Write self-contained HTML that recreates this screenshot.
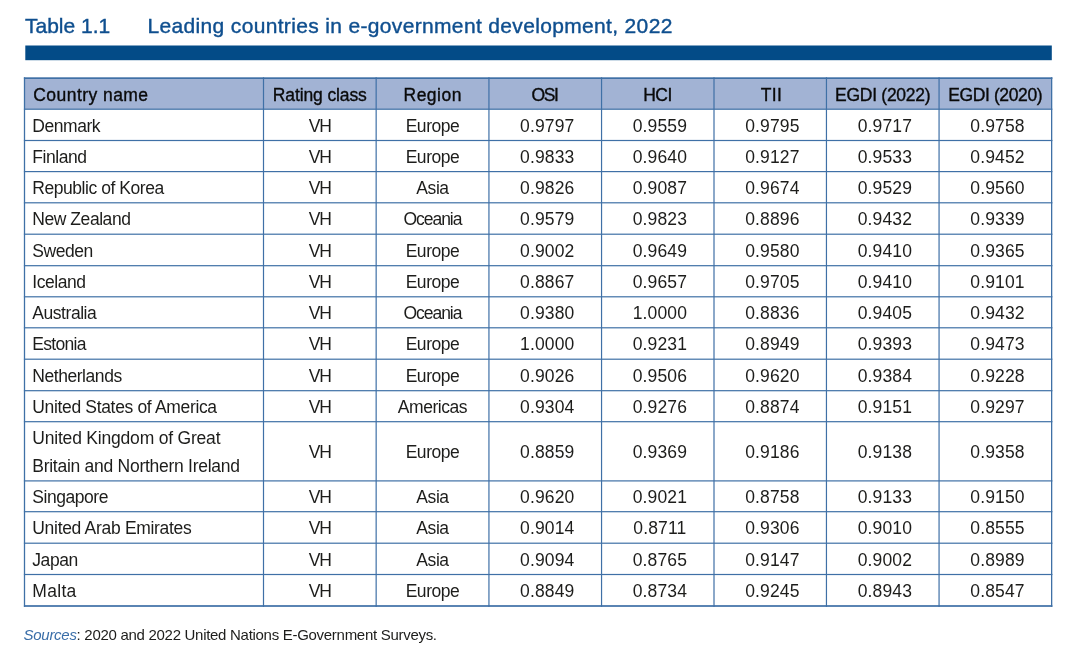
<!DOCTYPE html><html><head><meta charset="utf-8"><title>Table 1.1</title><style>
*{margin:0;padding:0;box-sizing:border-box}
html,body{width:1080px;height:660px;background:#fff;overflow:hidden}
body{position:relative;font-family:"Liberation Sans",Arial,sans-serif;color:#1d1d1b}
.t{position:absolute;white-space:nowrap;color:#0f4f8f;font-size:21px;line-height:1;-webkit-text-stroke:0.4px #0f4f8f}
.c{position:absolute;white-space:nowrap;font-size:17.5px;line-height:1}
.n{letter-spacing:-0.45px}
.num{padding-left:4.2px;letter-spacing:0.15px}
.h{font-weight:normal;font-size:17.5px;color:#0a0a0a;-webkit-text-stroke:0.35px #0a0a0a}
.src{position:absolute;left:23.6px;white-space:nowrap;font-size:15px;line-height:1;letter-spacing:-0.29px}
.src i{color:#3a6ea8}
#g{position:absolute;left:0;top:0}
#w{position:absolute;left:0;top:0;width:1080px;height:660px;will-change:transform}
</style></head><body><div id="w">
<div class="t" style="left:25px;top:15.02px">Table 1.1</div>
<div class="t" style="left:147.5px;top:15.02px;letter-spacing:0.34px">Leading countries in e-government development, 2022</div>
<svg id="g" width="1080" height="660" viewBox="0 0 1080 660"><rect x="25.3" y="45.5" width="1026.5" height="14.7" fill="#034b87"/><rect x="24.5" y="78.15" width="1027.15" height="31.05" fill="#a2b3d4"/><rect x="23.90" y="77.30" width="1028.50" height="1.7" fill="#3f70a6"/><rect x="23.90" y="108.60" width="1028.50" height="1.2" fill="#3f70a6"/><rect x="23.90" y="139.90" width="1028.50" height="1.2" fill="#3f70a6"/><rect x="23.90" y="171.00" width="1028.50" height="1.2" fill="#3f70a6"/><rect x="23.90" y="202.20" width="1028.50" height="1.2" fill="#3f70a6"/><rect x="23.90" y="233.60" width="1028.50" height="1.2" fill="#3f70a6"/><rect x="23.90" y="265.10" width="1028.50" height="1.2" fill="#3f70a6"/><rect x="23.90" y="296.20" width="1028.50" height="1.2" fill="#3f70a6"/><rect x="23.90" y="327.20" width="1028.50" height="1.2" fill="#3f70a6"/><rect x="23.90" y="358.60" width="1028.50" height="1.2" fill="#3f70a6"/><rect x="23.90" y="390.10" width="1028.50" height="1.2" fill="#3f70a6"/><rect x="23.90" y="421.10" width="1028.50" height="1.2" fill="#3f70a6"/><rect x="23.90" y="480.30" width="1028.50" height="1.2" fill="#3f70a6"/><rect x="23.90" y="511.10" width="1028.50" height="1.2" fill="#3f70a6"/><rect x="23.90" y="542.60" width="1028.50" height="1.2" fill="#3f70a6"/><rect x="23.90" y="573.90" width="1028.50" height="1.2" fill="#3f70a6"/><rect x="23.90" y="605.15" width="1028.50" height="1.7" fill="#3f70a6"/><rect x="23.85" y="77.30" width="1.3" height="529.55" fill="#3f70a6"/><rect x="262.90" y="77.30" width="1.2" height="529.55" fill="#3f70a6"/><rect x="375.55" y="77.30" width="1.2" height="529.55" fill="#3f70a6"/><rect x="488.34" y="77.30" width="1.2" height="529.55" fill="#3f70a6"/><rect x="600.95" y="77.30" width="1.2" height="529.55" fill="#3f70a6"/><rect x="713.40" y="77.30" width="1.2" height="529.55" fill="#3f70a6"/><rect x="825.85" y="77.30" width="1.2" height="529.55" fill="#3f70a6"/><rect x="938.46" y="77.30" width="1.2" height="529.55" fill="#3f70a6"/><rect x="1051.00" y="77.30" width="1.3" height="529.55" fill="#3f70a6"/></svg>
<div class="c h" style="left:33.3px;top:86.89px;letter-spacing:0.44px">Country name</div>
<div class="c h" style="left:263.5px;width:112.6px;text-align:center;top:86.89px;letter-spacing:-0.11px;text-indent:-0.11px">Rating class</div>
<div class="c h" style="left:376.1px;width:112.8px;text-align:center;top:86.89px;letter-spacing:0.50px;text-indent:0.50px">Region</div>
<div class="c h" style="left:488.9px;width:112.6px;text-align:center;top:86.89px;letter-spacing:-1.30px;text-indent:-1.30px">OSI</div>
<div class="c h" style="left:601.5px;width:112.5px;text-align:center;top:86.89px;letter-spacing:-0.50px;text-indent:-0.50px">HCI</div>
<div class="c h" style="left:715.0px;width:112.5px;text-align:center;top:86.89px;letter-spacing:0.35px;text-indent:0.35px">TII</div>
<div class="c h" style="left:826.5px;width:112.6px;text-align:center;top:86.89px;letter-spacing:-0.26px;text-indent:-0.26px">EGDI (2022)</div>
<div class="c h" style="left:939.1px;width:112.6px;text-align:center;top:86.89px;letter-spacing:-0.39px;text-indent:-0.39px">EGDI (2020)</div>
<div class="c n" style="left:32.3px;top:118px">Denmark</div>
<div class="c n" style="left:263.5px;width:112.6px;text-align:center;top:118px;letter-spacing:-1.0px">VH</div>
<div class="c n" style="left:376.1px;width:112.8px;text-align:center;top:118px">Europe</div>
<div class="c num" style="left:488.9px;width:112.6px;text-align:center;top:118px">0.9797</div>
<div class="c num" style="left:601.5px;width:112.5px;text-align:center;top:118px">0.9559</div>
<div class="c num" style="left:714.0px;width:112.5px;text-align:center;top:118px">0.9795</div>
<div class="c num" style="left:826.5px;width:112.6px;text-align:center;top:118px">0.9717</div>
<div class="c num" style="left:939.1px;width:112.6px;text-align:center;top:118px">0.9758</div>
<div class="c n" style="left:32.3px;top:149px">Finland</div>
<div class="c n" style="left:263.5px;width:112.6px;text-align:center;top:149px;letter-spacing:-1.0px">VH</div>
<div class="c n" style="left:376.1px;width:112.8px;text-align:center;top:149px">Europe</div>
<div class="c num" style="left:488.9px;width:112.6px;text-align:center;top:149px">0.9833</div>
<div class="c num" style="left:601.5px;width:112.5px;text-align:center;top:149px">0.9640</div>
<div class="c num" style="left:714.0px;width:112.5px;text-align:center;top:149px">0.9127</div>
<div class="c num" style="left:826.5px;width:112.6px;text-align:center;top:149px">0.9533</div>
<div class="c num" style="left:939.1px;width:112.6px;text-align:center;top:149px">0.9452</div>
<div class="c n" style="left:32.3px;top:180px">Republic of Korea</div>
<div class="c n" style="left:263.5px;width:112.6px;text-align:center;top:180px;letter-spacing:-1.0px">VH</div>
<div class="c n" style="left:376.1px;width:112.8px;text-align:center;top:180px">Asia</div>
<div class="c num" style="left:488.9px;width:112.6px;text-align:center;top:180px">0.9826</div>
<div class="c num" style="left:601.5px;width:112.5px;text-align:center;top:180px">0.9087</div>
<div class="c num" style="left:714.0px;width:112.5px;text-align:center;top:180px">0.9674</div>
<div class="c num" style="left:826.5px;width:112.6px;text-align:center;top:180px">0.9529</div>
<div class="c num" style="left:939.1px;width:112.6px;text-align:center;top:180px">0.9560</div>
<div class="c n" style="left:32.3px;top:211px">New Zealand</div>
<div class="c n" style="left:263.5px;width:112.6px;text-align:center;top:211px;letter-spacing:-1.0px">VH</div>
<div class="c n" style="left:376.1px;width:112.8px;text-align:center;top:211px;letter-spacing:-1.05px">Oceania</div>
<div class="c num" style="left:488.9px;width:112.6px;text-align:center;top:211px">0.9579</div>
<div class="c num" style="left:601.5px;width:112.5px;text-align:center;top:211px">0.9823</div>
<div class="c num" style="left:714.0px;width:112.5px;text-align:center;top:211px">0.8896</div>
<div class="c num" style="left:826.5px;width:112.6px;text-align:center;top:211px">0.9432</div>
<div class="c num" style="left:939.1px;width:112.6px;text-align:center;top:211px">0.9339</div>
<div class="c n" style="left:32.3px;top:243px">Sweden</div>
<div class="c n" style="left:263.5px;width:112.6px;text-align:center;top:243px;letter-spacing:-1.0px">VH</div>
<div class="c n" style="left:376.1px;width:112.8px;text-align:center;top:243px">Europe</div>
<div class="c num" style="left:488.9px;width:112.6px;text-align:center;top:243px">0.9002</div>
<div class="c num" style="left:601.5px;width:112.5px;text-align:center;top:243px">0.9649</div>
<div class="c num" style="left:714.0px;width:112.5px;text-align:center;top:243px">0.9580</div>
<div class="c num" style="left:826.5px;width:112.6px;text-align:center;top:243px">0.9410</div>
<div class="c num" style="left:939.1px;width:112.6px;text-align:center;top:243px">0.9365</div>
<div class="c n" style="left:32.3px;top:274px">Iceland</div>
<div class="c n" style="left:263.5px;width:112.6px;text-align:center;top:274px;letter-spacing:-1.0px">VH</div>
<div class="c n" style="left:376.1px;width:112.8px;text-align:center;top:274px">Europe</div>
<div class="c num" style="left:488.9px;width:112.6px;text-align:center;top:274px">0.8867</div>
<div class="c num" style="left:601.5px;width:112.5px;text-align:center;top:274px">0.9657</div>
<div class="c num" style="left:714.0px;width:112.5px;text-align:center;top:274px">0.9705</div>
<div class="c num" style="left:826.5px;width:112.6px;text-align:center;top:274px">0.9410</div>
<div class="c num" style="left:939.1px;width:112.6px;text-align:center;top:274px">0.9101</div>
<div class="c n" style="left:32.3px;top:305px">Australia</div>
<div class="c n" style="left:263.5px;width:112.6px;text-align:center;top:305px;letter-spacing:-1.0px">VH</div>
<div class="c n" style="left:376.1px;width:112.8px;text-align:center;top:305px;letter-spacing:-1.05px">Oceania</div>
<div class="c num" style="left:488.9px;width:112.6px;text-align:center;top:305px">0.9380</div>
<div class="c num" style="left:601.5px;width:112.5px;text-align:center;top:305px">1.0000</div>
<div class="c num" style="left:714.0px;width:112.5px;text-align:center;top:305px">0.8836</div>
<div class="c num" style="left:826.5px;width:112.6px;text-align:center;top:305px">0.9405</div>
<div class="c num" style="left:939.1px;width:112.6px;text-align:center;top:305px">0.9432</div>
<div class="c n" style="left:32.3px;top:336px;letter-spacing:-0.7px">Estonia</div>
<div class="c n" style="left:263.5px;width:112.6px;text-align:center;top:336px;letter-spacing:-1.0px">VH</div>
<div class="c n" style="left:376.1px;width:112.8px;text-align:center;top:336px">Europe</div>
<div class="c num" style="left:488.9px;width:112.6px;text-align:center;top:336px">1.0000</div>
<div class="c num" style="left:601.5px;width:112.5px;text-align:center;top:336px">0.9231</div>
<div class="c num" style="left:714.0px;width:112.5px;text-align:center;top:336px">0.8949</div>
<div class="c num" style="left:826.5px;width:112.6px;text-align:center;top:336px">0.9393</div>
<div class="c num" style="left:939.1px;width:112.6px;text-align:center;top:336px">0.9473</div>
<div class="c n" style="left:32.3px;top:368px">Netherlands</div>
<div class="c n" style="left:263.5px;width:112.6px;text-align:center;top:368px;letter-spacing:-1.0px">VH</div>
<div class="c n" style="left:376.1px;width:112.8px;text-align:center;top:368px">Europe</div>
<div class="c num" style="left:488.9px;width:112.6px;text-align:center;top:368px">0.9026</div>
<div class="c num" style="left:601.5px;width:112.5px;text-align:center;top:368px">0.9506</div>
<div class="c num" style="left:714.0px;width:112.5px;text-align:center;top:368px">0.9620</div>
<div class="c num" style="left:826.5px;width:112.6px;text-align:center;top:368px">0.9384</div>
<div class="c num" style="left:939.1px;width:112.6px;text-align:center;top:368px">0.9228</div>
<div class="c n" style="left:32.3px;top:399px;letter-spacing:-0.34px">United States of America</div>
<div class="c n" style="left:263.5px;width:112.6px;text-align:center;top:399px;letter-spacing:-1.0px">VH</div>
<div class="c n" style="left:376.1px;width:112.8px;text-align:center;top:399px">Americas</div>
<div class="c num" style="left:488.9px;width:112.6px;text-align:center;top:399px">0.9304</div>
<div class="c num" style="left:601.5px;width:112.5px;text-align:center;top:399px">0.9276</div>
<div class="c num" style="left:714.0px;width:112.5px;text-align:center;top:399px">0.8874</div>
<div class="c num" style="left:826.5px;width:112.6px;text-align:center;top:399px">0.9151</div>
<div class="c num" style="left:939.1px;width:112.6px;text-align:center;top:399px">0.9297</div>
<div class="c n" style="left:32.3px;top:430px;letter-spacing:-0.2px">United Kingdom of Great</div>
<div class="c n" style="left:32.3px;top:458px;letter-spacing:-0.27px">Britain and Northern Ireland</div>
<div class="c n" style="left:263.5px;width:112.6px;text-align:center;top:444px;letter-spacing:-1.0px">VH</div>
<div class="c n" style="left:376.1px;width:112.8px;text-align:center;top:444px">Europe</div>
<div class="c num" style="left:488.9px;width:112.6px;text-align:center;top:444px">0.8859</div>
<div class="c num" style="left:601.5px;width:112.5px;text-align:center;top:444px">0.9369</div>
<div class="c num" style="left:714.0px;width:112.5px;text-align:center;top:444px">0.9186</div>
<div class="c num" style="left:826.5px;width:112.6px;text-align:center;top:444px">0.9138</div>
<div class="c num" style="left:939.1px;width:112.6px;text-align:center;top:444px">0.9358</div>
<div class="c n" style="left:32.3px;top:489px">Singapore</div>
<div class="c n" style="left:263.5px;width:112.6px;text-align:center;top:489px;letter-spacing:-1.0px">VH</div>
<div class="c n" style="left:376.1px;width:112.8px;text-align:center;top:489px">Asia</div>
<div class="c num" style="left:488.9px;width:112.6px;text-align:center;top:489px">0.9620</div>
<div class="c num" style="left:601.5px;width:112.5px;text-align:center;top:489px">0.9021</div>
<div class="c num" style="left:714.0px;width:112.5px;text-align:center;top:489px">0.8758</div>
<div class="c num" style="left:826.5px;width:112.6px;text-align:center;top:489px">0.9133</div>
<div class="c num" style="left:939.1px;width:112.6px;text-align:center;top:489px">0.9150</div>
<div class="c n" style="left:32.3px;top:520px;letter-spacing:-0.31px">United Arab Emirates</div>
<div class="c n" style="left:263.5px;width:112.6px;text-align:center;top:520px;letter-spacing:-1.0px">VH</div>
<div class="c n" style="left:376.1px;width:112.8px;text-align:center;top:520px">Asia</div>
<div class="c num" style="left:488.9px;width:112.6px;text-align:center;top:520px">0.9014</div>
<div class="c num" style="left:601.5px;width:112.5px;text-align:center;top:520px">0.8711</div>
<div class="c num" style="left:714.0px;width:112.5px;text-align:center;top:520px">0.9306</div>
<div class="c num" style="left:826.5px;width:112.6px;text-align:center;top:520px">0.9010</div>
<div class="c num" style="left:939.1px;width:112.6px;text-align:center;top:520px">0.8555</div>
<div class="c n" style="left:32.3px;top:552px">Japan</div>
<div class="c n" style="left:263.5px;width:112.6px;text-align:center;top:552px;letter-spacing:-1.0px">VH</div>
<div class="c n" style="left:376.1px;width:112.8px;text-align:center;top:552px">Asia</div>
<div class="c num" style="left:488.9px;width:112.6px;text-align:center;top:552px">0.9094</div>
<div class="c num" style="left:601.5px;width:112.5px;text-align:center;top:552px">0.8765</div>
<div class="c num" style="left:714.0px;width:112.5px;text-align:center;top:552px">0.9147</div>
<div class="c num" style="left:826.5px;width:112.6px;text-align:center;top:552px">0.9002</div>
<div class="c num" style="left:939.1px;width:112.6px;text-align:center;top:552px">0.8989</div>
<div class="c n" style="left:32.3px;top:583px;letter-spacing:0.3px">Malta</div>
<div class="c n" style="left:263.5px;width:112.6px;text-align:center;top:583px;letter-spacing:-1.0px">VH</div>
<div class="c n" style="left:376.1px;width:112.8px;text-align:center;top:583px">Europe</div>
<div class="c num" style="left:488.9px;width:112.6px;text-align:center;top:583px">0.8849</div>
<div class="c num" style="left:601.5px;width:112.5px;text-align:center;top:583px">0.8734</div>
<div class="c num" style="left:714.0px;width:112.5px;text-align:center;top:583px">0.9245</div>
<div class="c num" style="left:826.5px;width:112.6px;text-align:center;top:583px">0.8943</div>
<div class="c num" style="left:939.1px;width:112.6px;text-align:center;top:583px">0.8547</div>
<div class="src" style="top:627.20px"><i>Sources</i>: 2020 and 2022 United Nations E-Government Surveys.</div>
</div></body></html>
